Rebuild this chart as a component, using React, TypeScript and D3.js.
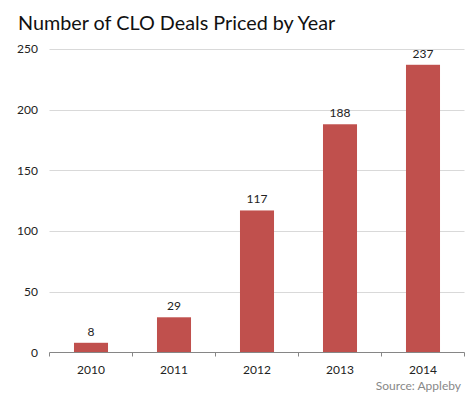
import React from "react";
import * as d3 from "d3";

const years = ["2010", "2011", "2012", "2013", "2014"];
const deals = [8, 29, 117, 188, 237];
const yTicks = [0, 50, 100, 150, 200, 250];

export default function App() {
  const W = 475, H = 402;
  const left = 49.5, right = 464.5, top = 49, bottom = 352.5;
  const x = d3.scaleBand<string>().domain(years).range([left, right]).padding(0);
  const y = d3.scaleLinear().domain([0, 250]).range([bottom, top]);
  const bw = x.bandwidth() * 0.41;
  const font = "Lato, 'Open Sans', sans-serif";
  return (
    <svg width={W} height={H} style={{ position: "absolute", left: 0, top: 0 }}>
      <rect width={W} height={H} fill="#fff" />
      <text x={18} y={30} fontFamily={font} fontSize={19.8} fill="#111">
        Number of CLO Deals Priced by Year
      </text>
      {yTicks.map((t) => (
        <g key={t}>
          {t > 0 && (
            <line x1={left} x2={right} y1={Math.round(y(t)) + 0.5} y2={Math.round(y(t)) + 0.5} stroke="#d9d9d9" />
          )}
          <text x={38} y={y(t)} dy="0.35em" textAnchor="end" fontFamily={font} fontSize={12} fill="#222">
            {t}
          </text>
        </g>
      ))}
      {years.map((yr, i) => {
        const cx = (x(yr) as number) + x.bandwidth() / 2;
        return (
          <g key={yr}>
            <rect x={cx - bw / 2} y={y(deals[i])} width={bw} height={bottom - y(deals[i])} fill="#C0504D" />
            <text x={cx} y={y(deals[i]) - 7} textAnchor="middle" fontFamily={font} fontSize={12} fill="#222">
              {deals[i]}
            </text>
            <text x={cx} y={370} dy="0.35em" textAnchor="middle" fontFamily={font} fontSize={12} fill="#222">
              {yr}
            </text>
          </g>
        );
      })}
      <line x1={left} x2={right} y1={bottom} y2={bottom} stroke="#868686" />
      {[...years.map((yr) => x(yr) as number), right].map((tx, i) => (
        <line key={i} x1={tx} x2={tx} y1={bottom} y2={bottom + 4} stroke="#868686" />
      ))}
      <text x={461} y={390} textAnchor="end" fontFamily={font} fontSize={12} fill="#888">
        Source: Appleby
      </text>
    </svg>
  );
}
